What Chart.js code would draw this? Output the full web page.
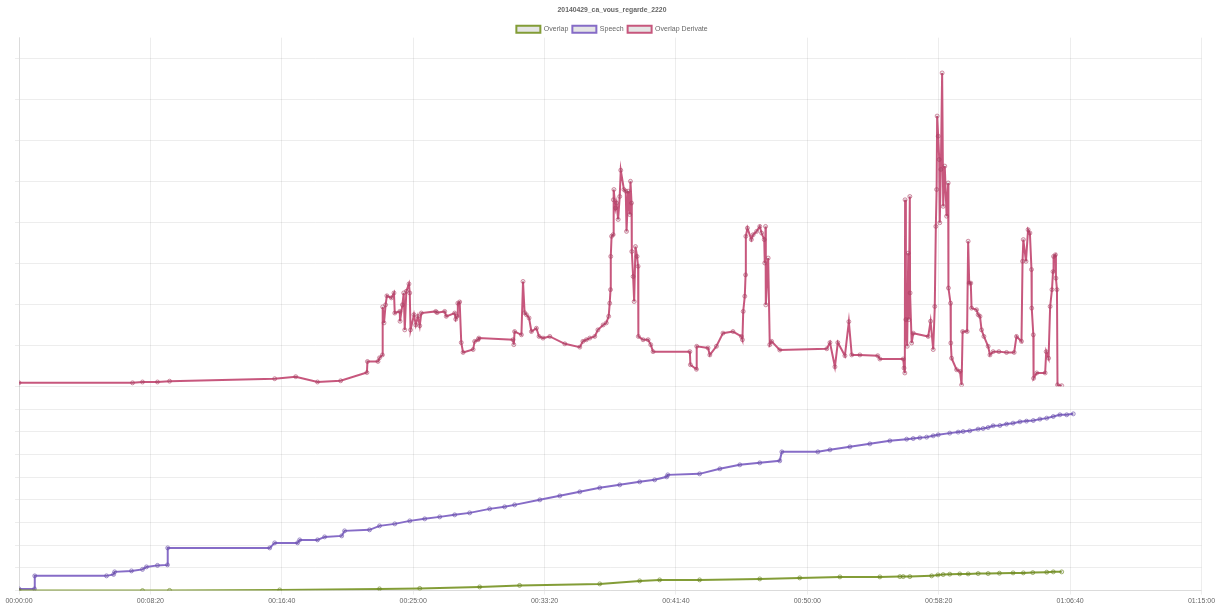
<!DOCTYPE html>
<html>
<head>
<meta charset="utf-8">
<script src="https://cdn.jsdelivr.net/npm/chart.js@4/dist/chart.umd.min.js"></script>
<style>
  html, body { margin: 0; padding: 0; background: #fff; }
  #wrap { width: 1224px; height: 607px; }
</style>
</head>
<body>
<div id="wrap"><canvas id="chart"></canvas></div>
<script>
// time in seconds since start of the show
const overlapTimes = [0, 470, 573, 992, 1372, 1525, 1753, 1905, 2210, 2362, 2438, 2590, 2819, 2971, 3124, 3276, 3352, 3365,
  3390, 3473, 3497, 3517, 3542, 3580, 3612, 3650, 3688, 3731, 3783, 3822, 3858, 3911, 3936, 3968];
const overlapValues = [0, 0, 4, 15, 37, 48, 80, 113, 146, 211, 233, 233, 254, 276, 298, 298, 304, 304,
  304, 320, 341, 348, 357, 363, 363, 370, 370, 378, 385, 385, 391, 400, 407, 407];

const speechTimes = [0, 59, 60, 333, 360, 364, 428, 470, 485, 527, 565, 566, 954, 973, 1060, 1068, 1136, 1163, 1228, 1239,
  1334, 1372, 1430, 1487, 1544, 1601, 1658, 1715, 1791, 1848, 1886, 1982, 2058, 2134, 2210, 2286, 2362, 2419, 2465, 2469,
  2590, 2667, 2743, 2819, 2895, 2903, 3040, 3086, 3162, 3238, 3314, 3378, 3403, 3428, 3454, 3479, 3498, 3542, 3574, 3593,
  3618, 3650, 3669, 3688, 3707, 3733, 3758, 3783, 3809, 3834, 3860, 3885, 3911, 3936, 3961, 3987, 4012];
const speechValues = [37, 37, 320, 320, 352, 407, 428, 461, 515, 548, 559, 928, 928, 1037, 1037, 1102, 1102, 1167, 1189, 1298,
  1320, 1407, 1450, 1515, 1559, 1602, 1646, 1689, 1776, 1820, 1863, 1972, 2059, 2146, 2233, 2298, 2363, 2407, 2472, 2515,
  2537, 2646, 2733, 2776, 2820, 3015, 3015, 3059, 3124, 3189, 3254, 3291, 3304, 3320, 3335, 3363, 3385, 3422, 3444, 3457,
  3472, 3509, 3522, 3544, 3581, 3587, 3618, 3639, 3668, 3683, 3696, 3726, 3748, 3783, 3820, 3820, 3841];

const derivTimes = [0, 432, 470, 527, 573, 973, 1053, 1136, 1224, 1324, 1326, 1366, 1372, 1383, 1384, 1389, 1395, 1400, 1417, 1427,
  1430, 1449, 1450, 1459, 1464, 1468, 1474, 1484, 1487, 1490, 1503, 1510, 1518, 1525, 1531, 1586, 1591, 1620, 1626, 1658,
  1662, 1667, 1670, 1677, 1683, 1690, 1728, 1734, 1747, 1750, 1880, 1883, 1886, 1912, 1918, 1924, 1931, 1941, 1950, 1969,
  1979, 1994, 2020, 2077, 2134, 2146, 2159, 2172, 2191, 2203, 2223, 2235, 2244, 2248, 2251, 2252, 2255, 2261, 2262, 2264,
  2270, 2274, 2280, 2286, 2290, 2302, 2309, 2312, 2318, 2324, 2327, 2331, 2332, 2337, 2341, 2346, 2352, 2356, 2357, 2375,
  2394, 2404, 2413, 2553, 2555, 2578, 2579, 2622, 2629, 2654, 2679, 2717, 2749, 2753, 2756, 2762, 2765, 2766, 2772, 2787,
  2794, 2807, 2819, 2826, 2836, 2838, 2841, 2842, 2851, 2857, 2864, 2895, 3074, 3086, 3105, 3116, 3143, 3158, 3169, 3200,
  3268, 3276, 3365, 3368, 3371, 3372, 3375, 3380, 3384, 3386, 3390, 3391, 3397, 3403, 3460, 3469, 3479, 3485, 3489, 3492,
  3494, 3498, 3502, 3504, 3508, 3513, 3517, 3523, 3530, 3536, 3537, 3545, 3546, 3549, 3568, 3581, 3587, 3591, 3608, 3612,
  3616, 3622, 3625, 3644, 3650, 3657, 3663, 3672, 3688, 3695, 3707, 3729, 3758, 3787, 3796, 3815, 3819, 3822, 3832, 3840,
  3847, 3853, 3854, 3860, 3861, 3873, 3905, 3909, 3918, 3924, 3931, 3935, 3937, 3944, 3946, 3950, 3952, 3968];
const derivValues = [0.9, 0.9, 1.1, 1.1, 1.3, 1.9, 2.4, 1.1, 1.4, 3.4, 6.1, 6.1, 7.0, 7.7, 19.4, 15.5, 19.9, 22.1, 21.6, 22.8,
  17.9, 18.3, 15.9, 19.9, 22.8, 13.8, 23.2, 25.0, 22.8, 13.8, 17.5, 15.0, 17.1, 14.8, 17.9, 18.3, 18.0, 18.3, 17.1, 17.9,
  16.4, 17.1, 20.3, 20.6, 10.7, 8.3, 9.0, 11.0, 11.4, 11.8, 11.4, 10.2, 13.4, 12.6, 25.6, 18.0, 17.5, 16.7, 13.4, 14.2,
  12.2, 11.8, 12.2, 10.4, 9.6, 11.0, 11.4, 11.8, 12.2, 13.8, 15.0, 15.5, 17.1, 20.3, 23.6, 31.7, 36.6, 37.0, 45.5, 48.0,
  43.5, 44.7, 40.7, 46.3, 52.7, 48.0, 47.6, 37.8, 47.6, 41.9, 50.0, 44.7, 32.9, 26.8, 20.7, 34.1, 31.7, 29.3, 12.2, 11.4,
  11.4, 10.2, 8.5, 8.5, 5.3, 4.2, 9.8, 9.4, 7.7, 9.8, 13.0, 13.4, 12.2, 11.4, 18.3, 22.0, 27.2, 36.6, 38.6, 35.8,
  37.0, 37.8, 39.0, 37.4, 35.8, 30.1, 39.0, 19.9, 31.3, 10.2, 11.0, 8.9, 9.2, 10.7, 4.8, 10.7, 7.5, 15.8, 7.7, 7.7,
  7.5, 6.7, 6.7, 4.5, 3.3, 45.5, 16.3, 9.8, 32.5, 16.3, 46.3, 22.8, 10.6, 13.0, 12.2, 15.9, 9.0, 19.5, 39.0, 48.0,
  65.9, 61.0, 55.3, 39.9, 52.9, 76.4, 43.9, 53.7, 41.5, 49.6, 24.0, 20.3, 10.6, 6.9, 4.1, 3.7, 0.4, 13.4, 13.4, 35.4,
  25.2, 25.2, 19.1, 18.7, 17.5, 17.1, 13.8, 12.2, 9.8, 7.7, 8.5, 8.5, 8.3, 8.3, 12.2, 11.0, 30.5, 35.8, 30.5, 38.2,
  37.4, 28.5, 19.1, 12.6, 2.0, 3.3, 3.3, 8.5, 6.9, 19.5, 23.6, 28.0, 31.7, 32.1, 26.4, 23.6, 0.4, 0.2];

const xTickStep = 500;

function toPoints(times, values) {
  return times.map((t, i) => ({ x: t, y: values[i] }));
}

function hms(sec) {
  const h = Math.floor(sec / 3600);
  const m = Math.floor((sec % 3600) / 60);
  const s = Math.round(sec % 60);
  const p = n => String(n).padStart(2, '0');
  return p(h) + ':' + p(m) + ':' + p(s);
}

Chart.defaults.font.family = "'Liberation Sans', Helvetica, Arial, sans-serif";
Chart.defaults.font.size = 7;
Chart.defaults.color = '#666';

const gridColor = 'rgba(0,0,0,0.07)';

const lineStyle = (color, pointColor) => ({
  borderColor: color,
  backgroundColor: 'rgba(0,0,0,0.1)',
  borderWidth: 2,
  pointRadius: 2,
  pointBorderWidth: 1,
  pointBorderColor: pointColor,
  pointBackgroundColor: 'rgba(0,0,0,0.08)',
  fill: false,
  tension: 0,
});

// legend takes a bit less room than chart.js gives it by default
const tightLegend = {
  id: 'tightLegend',
  beforeInit(chart) {
    const origFit = chart.legend.fit;
    chart.legend.fit = function () {
      origFit.bind(chart.legend)();
      this.height -= 5;
    };
  }
};

const ctx = document.getElementById('chart');

const chart = new Chart(ctx, {
  type: 'line',
  data: {
    datasets: [
      {
        label: 'Overlap',
        data: toPoints(overlapTimes, overlapValues),
        yAxisID: 'yLow',
        ...lineStyle('rgba(124,152,44,0.95)', 'rgba(110,140,30,0.6)'),
      },
      {
        label: 'Speech',
        data: toPoints(speechTimes, speechValues),
        yAxisID: 'yLow',
        ...lineStyle('rgba(128,100,196,0.95)', 'rgba(110,80,180,0.6)'),
      },
      {
        label: 'Overlap Derivate',
        data: toPoints(derivTimes, derivValues),
        yAxisID: 'yHigh',
        ...lineStyle('rgba(196,78,118,0.95)', 'rgba(180,60,100,0.55)'),
      }
    ]
  },
  plugins: [tightLegend],
  options: {
    responsive: true,
    maintainAspectRatio: false,
    animation: false,
    layout: {
      padding: { left: 15, right: 15, top: 0, bottom: 0 }
    },
    plugins: {
      title: {
        display: true,
        text: '20140429_ca_vous_regarde_2220',
        font: { size: 6.8, weight: 'bold' },
        color: '#666',
        padding: { top: 6.5, bottom: 7 },
      },
      legend: {
        labels: {
          boxWidth: 24,
          boxHeight: 7,
          padding: 4,
        }
      },
      tooltip: { enabled: false }
    },
    scales: {
      x: {
        type: 'linear',
        min: 0,
        max: 4500,
        ticks: {
          stepSize: xTickStep,
          maxRotation: 0,
          padding: 2,
          callback: v => hms(v),
        },
        // extra room on the right of the plot, without moving title/legend
        afterFit: axis => { axis.paddingRight = 22.5; },
        grid: { tickLength: 4, color: gridColor },
        border: { color: 'rgba(0,0,0,0.08)' },
      },
      yLow: {
        type: 'linear',
        position: 'left',
        stack: 'main',
        stackWeight: 204,
        min: 0,
        max: 4435,
        ticks: { stepSize: 500, display: false, includeBounds: false },
        grid: { tickLength: 4, color: gridColor },
        border: { color: 'rgba(0,0,0,0.08)' },
      },
      yHigh: {
        type: 'linear',
        position: 'left',
        stack: 'main',
        stackWeight: 348.7,
        min: 0,
        max: 85,
        ticks: { stepSize: 10, display: false, includeBounds: false },
        // the bottom edge line is already drawn once by the lower axis
        grid: { tickLength: 4, color: c => (c.tick && c.tick.value === 0 ? 'rgba(0,0,0,0)' : gridColor) },
        border: { color: 'rgba(0,0,0,0.08)' },
      }
    }
  }
});
</script>
</body>
</html>
